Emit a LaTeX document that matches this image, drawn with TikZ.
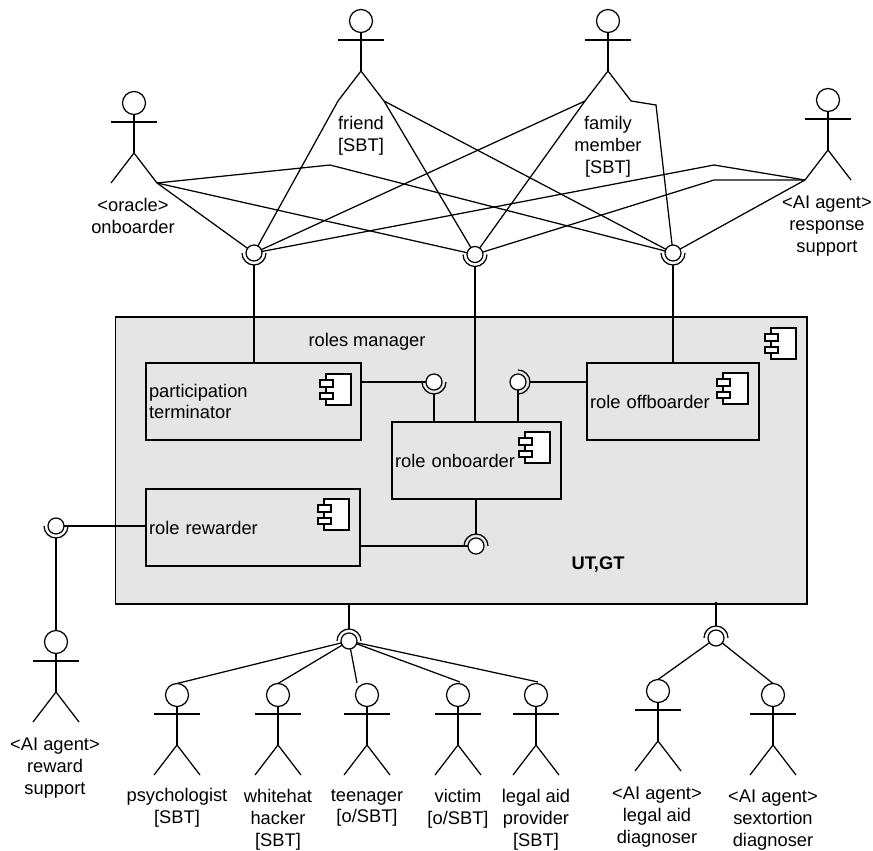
\documentclass[tikz,border=0pt]{standalone}
\usepackage{fontspec}
\setmainfont{Liberation Sans}
\tikzset{
	ball node/.style={circle, draw, fill=white, inner sep=0, outer sep=0, minimum size=16},
	box node/.style={draw, fill=boxgray, anchor=north west, inner xsep=3, inner ysep=0, outer sep=0, minimum height=77, text width=#1, align=left},
	text node/.style={inner sep=0, align=center},
	actor/.pic={
		\node[circle, draw, inner sep=0, outer sep=0, minimum size=23] (-head) at (0,-12) {};
		\coordinate (-lf) at (-23,-92);
		\coordinate (-rf) at (23,-92);
		\draw (-23,-31) -- (23,-31);
		\draw (-head.south) -- (0,-62);
		\draw (-lf) -- (0,-62) -- (-rf);
	},
	socket/.pic={
		\draw (#1:12) arc[start angle=#1, delta angle=180, radius=12];
		\coordinate (-out) at (#1+90:12);
		\node[ball node] (-ball) at (0,0) {};
	},
	icon/.pic={
		\draw[fill=white] (-25,0) rectangle (0,-31);
		\draw[fill=white] (-31,-6) rectangle (-18,-13);
		\draw[fill=white] (-31,-19) rectangle (-18,-25);
	},
}
\definecolor{boxgray}{HTML}{E5E5E5}

\begin{document}
\begin{tikzpicture}[x=1pt, y=1pt, line width=1.25pt, every node/.style={font=\fontsize{18.3}{21.8}\selectfont}]
	\useasboundingbox (0,0) rectangle (873,-851);

	\node[draw, fill=boxgray, anchor=north west, inner sep=0, outer sep=0, minimum width=691.5, minimum height=287] (manager) at (115.5,-317) {};
	\node[text node] (managerlabel) at (367,-342) {roles manager};
	\node[text node, font=\fontsize{18.3}{21.8}\selectfont\bfseries] (utgt) at (598,-565) {UT,GT};

	\node[box node=209pt] (terminator) at (146,-363) {participation\\terminator};
	\node[box node=208pt] (rewarder) at (146,-489) {role rewarder};
	\node[box node=163pt] (onboarder) at (392,-422) {role onboarder};
	\node[box node=166pt] (offboarder) at (587,-363) {role offboarder};

	\pic at ([shift={(-11,-11)}]manager.north east) {icon};
	\pic at ([shift={(-10,-11)}]terminator.north east) {icon};
	\pic at ([shift={(-11,-10)}]rewarder.north east) {icon};
	\pic at ([shift={(-11,-10)}]onboarder.north east) {icon};
	\pic at ([shift={(-11,-10)}]offboarder.north east) {icon};

	\pic (oracle) at (134,-91) {actor};
	\pic (friend) at (361,-9) {actor};
	\pic (family) at (608,-9) {actor};
	\pic (response) at (828,-88) {actor};
	\pic (reward) at (56,-630) {actor};
	\pic (psychologist) at (177,-683) {actor};
	\pic (whitehat) at (278,-683) {actor};
	\pic (teenager) at (367,-683) {actor};
	\pic (victim) at (458,-683) {actor};
	\pic (provider) at (536,-683) {actor};
	\pic (legalaid) at (658,-679) {actor};
	\pic (sextortion) at (773,-683) {actor};

	\node[text node] (oraclelabel) at (133,-216) {<oracle>\\onboarder};
	\node[text node] (friendlabel) at (361,-136) {friend\\{[SBT]}};
	\node[text node] (familylabel) at (608,-147) {family\\member\\{[SBT]}};
	\node[text node] (responselabel) at (827,-226) {<AI agent>\\response\\support};
	\node[text node] (rewardlabel) at (55,-768) {<AI agent>\\reward\\support};
	\node[text node] (psychologistlabel) at (177,-808) {psychologist\\{[SBT]}};
	\node[text node] (whitehatlabel) at (278,-820) {whitehat\\hacker\\{[SBT]}};
	\node[text node] (teenagerlabel) at (367,-808) {teenager\\{[o/SBT]}};
	\node[text node] (victimlabel) at (458,-809) {victim\\{[o/SBT]}};
	\node[text node] (providerlabel) at (536,-820) {legal aid\\provider\\{[SBT]}};
	\node[text node] (legalaidlabel) at (657,-817) {<AI agent>\\legal aid\\diagnoser};
	\node[text node] (sextortionlabel) at (773,-820) {<AI agent>\\sextortion\\diagnoser};

	\pic (s1) at (254,-253) {socket=180};
	\pic (s2) at (475,-254.5) {socket=180};
	\pic (s3) at (673,-253) {socket=180};
	\pic (s4) at (434,-382) {socket=180};
	\pic (s5) at (518,-382) {socket=-90};
	\pic (s6) at (476,-546) {socket=0};
	\pic (s7) at (56,-526) {socket=180};
	\pic (s8) at (349,-641) {socket=0};
	\pic (s9) at (716,-638) {socket=0};

	\coordinate (oraclebend) at (330,-165);
	\coordinate (familybend) at (656,-105);
	\coordinate (responsebend1) at (714,-165);
	\coordinate (responsebend2) at (714,-180);
	\coordinate (teenagerend) at (357,-683);
	\coordinate (victimend) at (460,-682);
	\coordinate (providerend) at (538,-682);

	\draw (oracle-rf) -- (s1-ball);
	\draw (oracle-rf) -- (s2-ball);
	\draw (oracle-rf) -- (oraclebend) -- (s3-ball);
	\draw (friend-lf) -- (s1-ball);
	\draw (friend-rf) -- (s2-ball);
	\draw (friend-rf) -- (s3-ball);
	\draw (family-lf) -- (s1-ball);
	\draw (family-lf) -- (s2-ball);
	\draw (family-rf) -- (familybend) -- (s3-ball);
	\draw (response-lf) -- (responsebend1) -- (s1-ball);
	\draw (response-lf) -- (responsebend2) -- (s2-ball);
	\draw (response-lf) -- (s3-ball);

	\draw (s1-out) -- (s1-out |- terminator.north);
	\draw (s2-out) -- (s2-out |- onboarder.north);
	\draw (s3-out) -- (s3-out |- offboarder.north);

	\draw (terminator.east |- s4-ball) -- (s4-ball);
	\draw (s4-out) -- (s4-out |- onboarder.north);
	\draw (offboarder.west |- s5-out) -- (s5-out);
	\draw (s5-ball.south) -- (s5-ball.south |- onboarder.north);
	\draw (s6-out |- onboarder.south) -- (s6-out);
	\draw (rewarder.east |- s6-ball) -- (s6-ball);
	\draw (rewarder.west |- s7-ball) -- (s7-ball);
	\draw (s7-out) -- (reward-head.north);

	\draw (s8-out |- manager.south) -- (s8-out);
	\draw ([yshift=2]s9-out |- manager.south) -- (s9-out);
	\draw (s8-ball) -- (psychologist-head.north);
	\draw (s8-ball) -- (whitehat-head.north);
	\draw (s8-ball) -- (teenagerend);
	\draw (s8-ball) -- (victimend);
	\draw (s8-ball) -- (providerend);
	\draw (s9-ball) -- (legalaid-head.north);
	\draw (s9-ball) -- (sextortion-head.north);
\end{tikzpicture}
\end{document}
